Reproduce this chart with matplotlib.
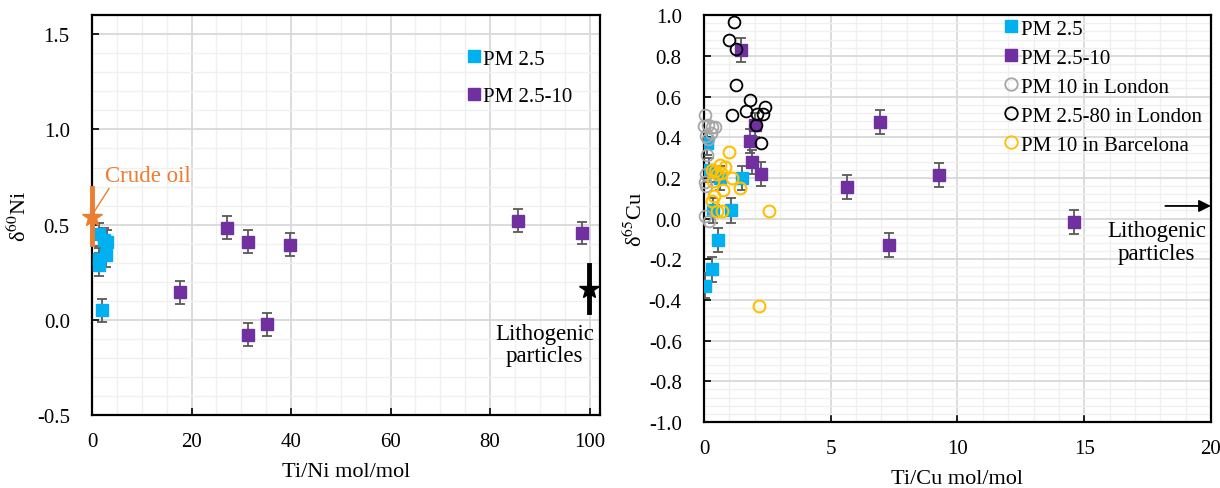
import numpy as np
import matplotlib.pyplot as plt
from matplotlib.ticker import MultipleLocator
from matplotlib.lines import Line2D

plt.rcParams['font.family'] = ['Liberation Serif', 'DejaVu Serif']
plt.rcParams['mathtext.fontset'] = 'stix'

# ---------------- data: left panel (Ni) ----------------
ni_pm25_x = [1.4, 2.5, 3.0, 2.8, 1.4, 1.5, 2.0]
ni_pm25_y = [0.45, 0.42, 0.41, 0.34, 0.32, 0.29, 0.05]
ni_pm25_err = [0.06, 0.06, 0.06, 0.06, 0.06, 0.06, 0.06]

ni_pm10_x = [17.7, 27.1, 31.4, 39.7, 31.4, 35.1, 85.7, 98.4]
ni_pm10_y = [0.145, 0.485, 0.41, 0.395, -0.077, -0.024, 0.52, 0.456]
ni_pm10_err = [0.06, 0.06, 0.06, 0.06, 0.06, 0.06, 0.06, 0.06]

crude_x, crude_y, crude_lo, crude_hi = 0.0, 0.54, 0.40, 0.69
litho_x, litho_y, litho_lo, litho_hi = 99.8, 0.16, 0.04, 0.29

# ---------------- data: right panel (Cu) ----------------
cu_pm25_x = [0.05, 0.33, 0.56, 1.08, 1.51, 0.12, 0.18, 0.65, 0.35]
cu_pm25_y = [-0.33, -0.25, -0.105, 0.04, 0.20, 0.37, 0.24, 0.20, 0.04]
cu_pm25_err = [0.06] * 9

cu_pm10_x = [1.48, 1.82, 2.01, 1.89, 2.27, 5.64, 6.96, 7.31, 9.27, 14.61]
cu_pm10_y = [0.828, 0.382, 0.459, 0.279, 0.218, 0.156, 0.475, -0.131, 0.213, -0.016]
cu_pm10_err = [0.06] * 10

london10_x = [0.06, 0.0, 0.15, 0.30, 0.45, 0.26, 0.08, 0.15, 0.12, 0.08, 0.03, 0.08, 0.05, 0.18]
london10_y = [0.508, 0.456, 0.459, 0.448, 0.451, 0.423, 0.407, 0.39, 0.311, 0.218, 0.18, 0.16, 0.013, -0.011]

london80_x = [1.18, 1.00, 1.26, 1.26, 1.81, 1.66, 1.09, 2.08, 2.31, 2.41, 2.04, 2.24]
london80_y = [0.967, 0.88, 0.835, 0.657, 0.582, 0.527, 0.508, 0.516, 0.516, 0.549, 0.459, 0.369]

barc_x = [0.98, 0.30, 0.42, 0.64, 0.83, 0.53, 0.68, 1.09, 0.35, 0.76, 1.44, 0.38, 0.30, 0.53, 0.73, 2.57, 2.16]
barc_y = [0.328, 0.239, 0.234, 0.264, 0.254, 0.218, 0.226, 0.198, 0.185, 0.139, 0.149, 0.111, 0.087, 0.038, 0.038, 0.038, -0.43]

BLUE = '#00B0F0'
PURPLE = '#7030A0'
ORANGE = '#ED7D31'
GRAY = '#A6A6A6'
YELLOW = '#FFC000'
ERR = '#595959'


def style_axes(ax):
    ax.grid(True, which='major', color='#d9d9d9', linewidth=1.3, zorder=0)
    ax.grid(True, which='minor', color='#f0f0f0', linewidth=1.0, zorder=0)
    ax.set_axisbelow(True)
    for s in ax.spines.values():
        s.set_linewidth(1.6)
        s.set_color('black')
    ax.tick_params(which='major', direction='in', length=5, width=1.2, labelsize=15)
    ax.tick_params(axis='x', which='major', pad=12)
    ax.tick_params(axis='y', which='major', pad=16)
    ax.tick_params(which='minor', length=0)


def sq(color):
    return Line2D([], [], ls='none', marker='s', color=color, ms=9)


def circ(color):
    return Line2D([], [], ls='none', marker='o', mfc='none', mec=color, mew=1.3, ms=9)


fig = plt.figure(figsize=(12.2, 4.89), dpi=100)

# ---------------- left panel ----------------
ax1 = fig.add_axes([0.0754, 0.149, 0.416, 0.818])
style_axes(ax1)
ax1.set_xlim(0, 102)
ax1.set_ylim(-0.5, 1.6)
ax1.xaxis.set_major_locator(MultipleLocator(20))
ax1.xaxis.set_minor_locator(MultipleLocator(5))
ax1.yaxis.set_major_locator(MultipleLocator(0.5))
ax1.yaxis.set_minor_locator(MultipleLocator(0.1))
ax1.yaxis.set_major_formatter(plt.FuncFormatter(lambda v, p: f'{v:.1f}'))

ax1.errorbar(ni_pm25_x, ni_pm25_y, yerr=ni_pm25_err, fmt='s', color=BLUE, ms=8.5,
             ecolor=ERR, elinewidth=1.3, capsize=3.5, capthick=1.3, zorder=3)
ax1.errorbar(ni_pm10_x, ni_pm10_y, yerr=ni_pm10_err, fmt='s', color=PURPLE, ms=8.5,
             ecolor=ERR, elinewidth=1.3, capsize=3.5, capthick=1.3, zorder=3)

ax1.plot([crude_x, crude_x], [crude_lo, crude_hi], color=ORANGE, lw=3.5, clip_on=False, zorder=4)
ax1.plot([crude_x], [crude_y], marker='*', color=ORANGE, ms=15, clip_on=False, zorder=5)
ax1.annotate('Crude oil', xy=(0.5, 0.57), xytext=(2.6, 0.76), color=ORANGE, fontsize=16.5,
             va='center', ha='left',
             arrowprops=dict(arrowstyle='-', color=ORANGE, lw=1, shrinkA=0, shrinkB=0,
                             relpos=(0.1, 0.2)))

ax1.plot([litho_x, litho_x], [litho_lo, litho_hi], color='black', lw=3.5, zorder=4)
ax1.plot([litho_x], [litho_y], marker='*', color='black', ms=15, zorder=5)
ax1.text(91, -0.13, 'Lithogenic\nparticles', ha='center', va='center', fontsize=16.5,
         linespacing=1.1)

ax1.set_xlabel('Ti/Ni mol/mol', fontsize=16, labelpad=8)
ax1.set_ylabel('δ$^{60}$Ni', fontsize=16, labelpad=4)
ax1.legend([sq(BLUE), sq(PURPLE)], ['PM 2.5', 'PM 2.5-10'],
           loc='upper left', bbox_to_anchor=(0.74, 0.915), frameon=False, fontsize=15,
           borderpad=0, borderaxespad=0, handlelength=0.6, handletextpad=0.15,
           labelspacing=0.85)

# ---------------- right panel ----------------
ax2 = fig.add_axes([0.577, 0.135, 0.4156, 0.832])
style_axes(ax2)
ax2.set_xlim(0, 20)
ax2.set_ylim(-1.0, 1.0)
ax2.xaxis.set_major_locator(MultipleLocator(5))
ax2.xaxis.set_minor_locator(MultipleLocator(1))
ax2.yaxis.set_major_locator(MultipleLocator(0.2))
ax2.yaxis.set_minor_locator(MultipleLocator(0.04))
ax2.yaxis.set_major_formatter(plt.FuncFormatter(lambda v, p: f'{v:.1f}'))

ax2.errorbar(cu_pm25_x, cu_pm25_y, yerr=cu_pm25_err, fmt='s', color=BLUE, ms=8.5,
             ecolor=ERR, elinewidth=1.3, capsize=3.5, capthick=1.3, zorder=3)
ax2.errorbar(cu_pm10_x, cu_pm10_y, yerr=cu_pm10_err, fmt='s', color=PURPLE, ms=8.5,
             ecolor=ERR, elinewidth=1.3, capsize=3.5, capthick=1.3, zorder=3)
ax2.plot(london10_x, london10_y, 'o', mfc='none', mec=GRAY, mew=1.3, ms=8.5,
         zorder=4, clip_on=False)
ax2.plot(london80_x, london80_y, 'o', mfc='none', mec='black', mew=1.3, ms=8.5, zorder=4)
ax2.plot(barc_x, barc_y, 'o', mfc='none', mec=YELLOW, mew=1.5, ms=8.5, zorder=4)

ax2.annotate('', xy=(20, 0.062), xytext=(18.2, 0.062),
             arrowprops=dict(arrowstyle='-|>', color='black', lw=1.3, mutation_scale=18,
                             shrinkA=0, shrinkB=0))
ax2.text(17.85, -0.115, 'Lithogenic\nparticles', ha='center', va='center', fontsize=16.5,
         linespacing=1.1)

ax2.set_xlabel('Ti/Cu mol/mol', fontsize=16, labelpad=8)
ax2.set_ylabel('δ$^{65}$Cu', fontsize=16, labelpad=1)
ax2.legend([sq(BLUE), sq(PURPLE), circ(GRAY), circ('black'), circ(YELLOW)],
           ['PM 2.5', 'PM 2.5-10', 'PM 10 in London', 'PM 2.5-80 in London', 'PM 10 in Barcelona'],
           loc='upper left', bbox_to_anchor=(0.594, 0.99), frameon=False, fontsize=15,
           borderpad=0, borderaxespad=0, handlelength=0.6, handletextpad=0.15,
           labelspacing=0.45)

fig.savefig('out.png', dpi=100)
